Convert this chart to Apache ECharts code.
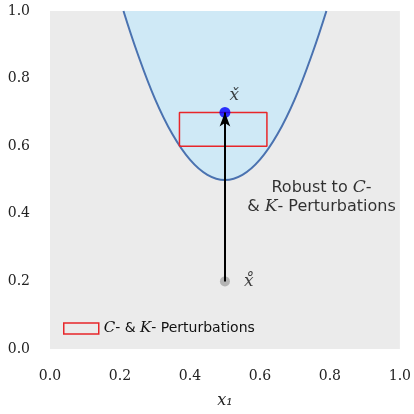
<!DOCTYPE html>
<html><head><meta charset="utf-8">
<script src="https://cdn.jsdelivr.net/npm/echarts@6/dist/echarts.min.js"></script>
<style>html,body{margin:0;padding:0;background:#fff}#c{width:414px;height:414px}</style>
</head><body><div id="c"></div>
<script>
// Parabola
const curveX = [0.21, 0.25, 0.30, 0.35, 0.40, 0.45, 0.50, 0.55, 0.60, 0.65, 0.70, 0.75, 0.79];
const curveY = [1.00, 0.875, 0.74, 0.635, 0.56, 0.515, 0.50, 0.515, 0.56, 0.635, 0.74, 0.875, 1.00];
// Perturbation box
const boxX = [0.37, 0.62];
const boxY = [0.60, 0.70];
// Points
const startPt = [0.5, 0.2];
const endPt = [0.5, 0.7];
const ticks = [0.0, 0.2, 0.4, 0.6, 0.8, 1.0];

const serif = 'DejaVu Serif';
const sans = 'DejaVu Sans';
const scriptRich = {
  s: {fontFamily: serif, fontStyle: 'italic', fontSize: 15, color: '#111'},
  t: {fontFamily: sans, fontSize: 14, color: '#111'}
};

const chart = echarts.init(document.getElementById('c'));
chart.setOption({
  animation: false,
  grid: {left: 50, right: 14, top: 11, bottom: 63, show: true, backgroundColor: '#ebebeb', borderWidth: 0},
  xAxis: {type: 'value', min: 0, max: 1, interval: 0.2,
    axisLine: {show: false}, axisTick: {show: false}, splitLine: {show: false},
    axisLabel: {fontFamily: serif, fontSize: 14, color: '#222', margin: 20, formatter: v => v.toFixed(1)},
    name: 'x\u2081', nameLocation: 'middle', nameGap: 44,
    nameTextStyle: {fontFamily: serif, fontStyle: 'italic', fontSize: 16, color: '#222'}},
  yAxis: {type: 'value', min: 0, max: 1, interval: 0.2,
    axisLine: {show: false}, axisTick: {show: false}, splitLine: {show: false},
    axisLabel: {fontFamily: serif, fontSize: 14, color: '#222', margin: 20, formatter: v => v.toFixed(1)}},
  legend: {left: 58, top: 316, itemWidth: 35, itemHeight: 11, itemGap: 10,
    data: [{name: 'box', icon: 'rect', itemStyle: {color: 'transparent', borderColor: '#e8262a', borderWidth: 1.5}}],
    formatter: () => '{s|C}{t|- & }{s|K}{t|- Perturbations}',
    textStyle: {rich: scriptRich}},
  series: [
    {type: 'line', data: curveX.map((x, i) => [x, curveY[i]]), smooth: 0.4, showSymbol: false,
     lineStyle: {color: '#4a72b0', width: 2}, areaStyle: {origin: 'end', color: '#cfe9f6', opacity: 1}, z: 2},
    {name: 'box', type: 'line', showSymbol: false,
     data: [[boxX[0], boxY[0]], [boxX[1], boxY[0]], [boxX[1], boxY[1]], [boxX[0], boxY[1]], [boxX[0], boxY[0]]],
     lineStyle: {color: '#e8262a', width: 1.5}, itemStyle: {color: '#e8262a'}, z: 3},
    {type: 'scatter', data: [startPt], symbolSize: 10, itemStyle: {color: '#a6a6a6'}, z: 3,
     label: {show: true, position: 'right', distance: 14, formatter: 'x\u030A', fontFamily: serif, fontStyle: 'italic', fontSize: 17, color: '#111'}},
    {type: 'scatter', data: [endPt], symbolSize: 11, itemStyle: {color: '#0000ff'}, z: 4,
     label: {show: true, position: [10, -20], formatter: 'x\u030C', fontFamily: serif, fontStyle: 'italic', fontSize: 17, color: '#111'}},
    {type: 'line', data: [], z: 5,
     markLine: {silent: true, symbol: ['none', 'arrow'], symbolSize: [8, 14], label: {show: false},
       lineStyle: {color: '#000', width: 2, type: 'solid'},
       data: [[{coord: startPt}, {coord: endPt}]]}},
    {type: 'scatter', data: [[0.776, 0.448]], symbolSize: 0, z: 6,
     label: {show: true, position: 'inside', align: 'center', lineHeight: 19,
       formatter: '{t|Robust to }{s|C}{t|-}\n{t|& }{s|K}{t|- Perturbations}',
       rich: {s: {fontFamily: serif, fontStyle: 'italic', fontSize: 17, color: '#000'}, t: {fontFamily: sans, fontSize: 16, color: '#000'}}}}
  ]
});
</script></body></html>
